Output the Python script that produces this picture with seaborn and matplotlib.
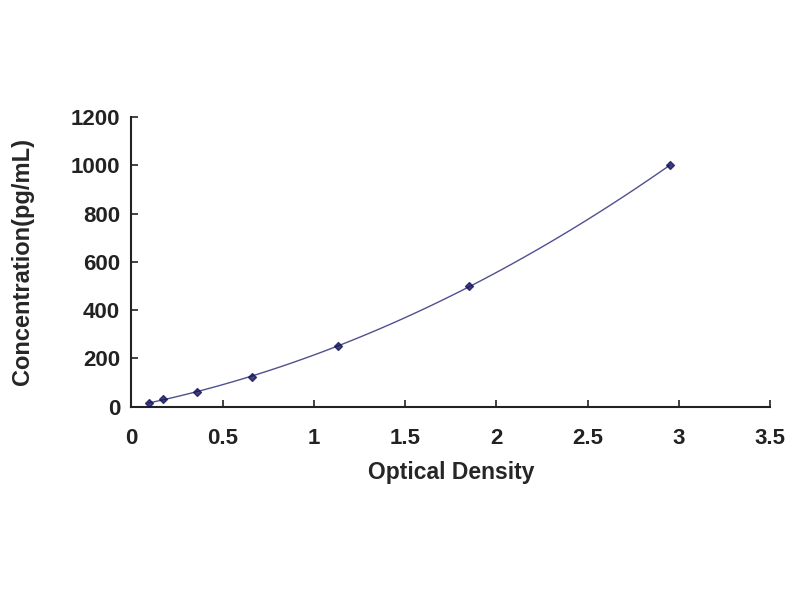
import matplotlib
matplotlib.use("Agg")
import matplotlib.pyplot as plt
import seaborn as sns
import pandas as pd

od = [0.095, 0.175, 0.36, 0.66, 1.13, 1.85, 2.95]
conc = [15.6, 31.25, 62.5, 125, 250, 500, 1000]
x_ticks = [0, 0.5, 1, 1.5, 2, 2.5, 3, 3.5]
y_ticks = [0, 200, 400, 600, 800, 1000, 1200]

df = pd.DataFrame({"od": od, "conc": conc})

sns.set_style("white")
plt.rcParams["font.family"] = ["Liberation Sans", "DejaVu Sans"]

fig = plt.figure(figsize=(8, 6), dpi=100)
ax = fig.add_axes([0.164, 0.322, 0.799, 0.483])

sns.regplot(data=df, x="od", y="conc", order=2, ci=None, ax=ax, marker="D",
            scatter_kws=dict(s=16, color="#14145a", zorder=3),
            line_kws=dict(color="#50508f", lw=1.0))

ax.set_xlim(0, 3.5)
ax.set_ylim(0, 1200)
ax.set_xticks(x_ticks)
ax.set_xticklabels([f"{v:g}" for v in x_ticks])
ax.set_yticks(y_ticks)
ax.set_yticklabels([str(v) for v in y_ticks])
ax.tick_params(axis="both", direction="in", length=5, width=1.2, labelsize=16,
               colors="#222222", left=True, bottom=True)
ax.tick_params(axis="x", pad=15)
ax.tick_params(axis="y", pad=8)
for lab in ax.get_xticklabels() + ax.get_yticklabels():
    lab.set_fontweight("bold")
ax.set_xlabel("Optical Density", fontsize=16.5, fontweight="bold", labelpad=9)
ax.set_ylabel("Concentration(pg/mL)", fontsize=17, fontweight="bold", labelpad=26)
for s in ["top", "right"]:
    ax.spines[s].set_visible(False)
for s in ["left", "bottom"]:
    ax.spines[s].set_color("#222222")
    ax.spines[s].set_linewidth(1.5)

fig.savefig("out.png", dpi=100)
